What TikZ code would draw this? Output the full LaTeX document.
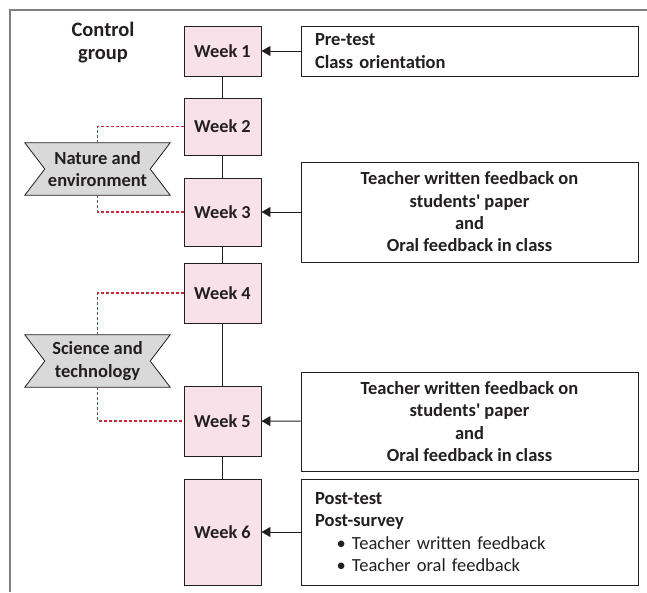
\documentclass[tikz,border=0pt]{standalone}
\usepackage{fontspec}
\setmainfont{Carlito}[Ligatures=TeXOff]
\usetikzlibrary{arrows.meta,calc}
\definecolor{pinkfill}{HTML}{F9E1EA}
\definecolor{bannergray}{HTML}{D9D9D9}
\definecolor{dashred}{HTML}{C8283C}
\definecolor{txt}{HTML}{231F20}
\definecolor{framegray}{HTML}{808080}
\tikzset{
  week/.style={draw=txt, fill=pinkfill, line width=0.9pt, minimum width=77pt, inner sep=0pt, font=\fontsize{18.3}{22}\selectfont\bfseries, text=txt},
  infobox/.style={draw=txt, fill=white, line width=0.9pt, minimum width=337pt, inner sep=0pt, font=\fontsize{18.5}{22.3}\selectfont\bfseries, text=txt},
  banner/.style={minimum width=145pt, minimum height=52pt, inner sep=0pt, align=center, font=\fontsize{18.5}{22.5}\selectfont\bfseries, text=txt},
  link/.style={draw=txt, line width=0.9pt},
  feed/.style={draw=txt, line width=0.9pt, -{Triangle[length=9pt,width=10pt]}},
  theme/.style={color=dashred, line width=1.1pt, dash pattern=on 3pt off 2pt},
}
\begin{document}
\begin{tikzpicture}[x=1pt,y=-1pt]
\useasboundingbox (0,0) rectangle (647,592);
\draw[framegray, line width=1.5pt] (647,10) -- (10,10) -- (10,592);
\node[font=\fontsize{20.5}{23}\selectfont\bfseries, text=txt, align=center] (cg) at (103,43) {Control\\group};
% week boxes
\node[week, minimum height=50pt] (w1) at (222.5,51) {Week 1};
\node[week, minimum height=57pt] (w2) at (222.5,126.5) {Week 2};
\node[week, minimum height=68pt] (w3) at (222.5,212) {Week 3};
\node[week, minimum height=60pt] (w4) at (222.5,293) {Week 4};
\node[week, minimum height=70pt] (w5) at (222.5,421) {Week 5};
\node[week, minimum height=106pt] (w6) at (222.5,532) {Week 6};
\draw[link] (w1) -- (w2);
\draw[link] (w2) -- (w3);
\draw[link] (w3) -- (w4);
\draw[link] (w4) -- (w5);
\draw[link] (w5) -- (w6);
% info boxes
\node[infobox, minimum height=50pt, align=left, text width=323pt] (b1) at (469.5,51) {\hspace*{7pt}Pre-test\\\hspace*{7pt}Class orientation};
\node[infobox, minimum height=100pt, align=center] (b2) at (469.5,212) {Teacher written feedback on\\students' paper\\and\\Oral feedback in class};
\node[infobox, minimum height=99pt, align=center] (b3) at (469.5,421.5) {Teacher written feedback on\\students' paper\\and\\Oral feedback in class};
\node[infobox, minimum height=106pt, align=left, text width=323pt] (b4) at (469.5,532) {\hspace*{7pt}Post-test\\\hspace*{7pt}Post-survey\\\hspace*{44pt}\llap{\mdseries\textbullet\ }\mdseries Teacher written feedback\\\hspace*{44pt}\llap{\mdseries\textbullet\ }\mdseries Teacher oral feedback};
\draw[feed] (b1) -- (w1);
\draw[feed] (b2) -- (w3);
\draw[feed] (b3) -- (w5);
\draw[feed] (b4) -- (w6);
% banners
\node[banner] (ne) at (97.5,169) {};
\node[banner] (st) at (97.5,361) {};
\foreach \bn in {ne,st}{
  \filldraw[fill=bannergray, draw=txt, line width=0.8pt] (\bn.north west) -- (\bn.north east) -- ($(\bn.east)+(-20,0)$) -- (\bn.south east) -- (\bn.south west) -- ($(\bn.west)+(20,0)$) -- cycle;
}
\node[banner] (net) at (97.5,169) {Nature and\\environment};
\node[banner] (stt) at (97.5,361) {Science and\\technology};
\draw[theme] (ne.north) |- (w2.west);
\draw[theme] (ne.south) |- (w3.west);
\draw[theme] (st.north) |- (w4.west);
\draw[theme] (st.south) |- (w5.west);
\end{tikzpicture}
\end{document}
